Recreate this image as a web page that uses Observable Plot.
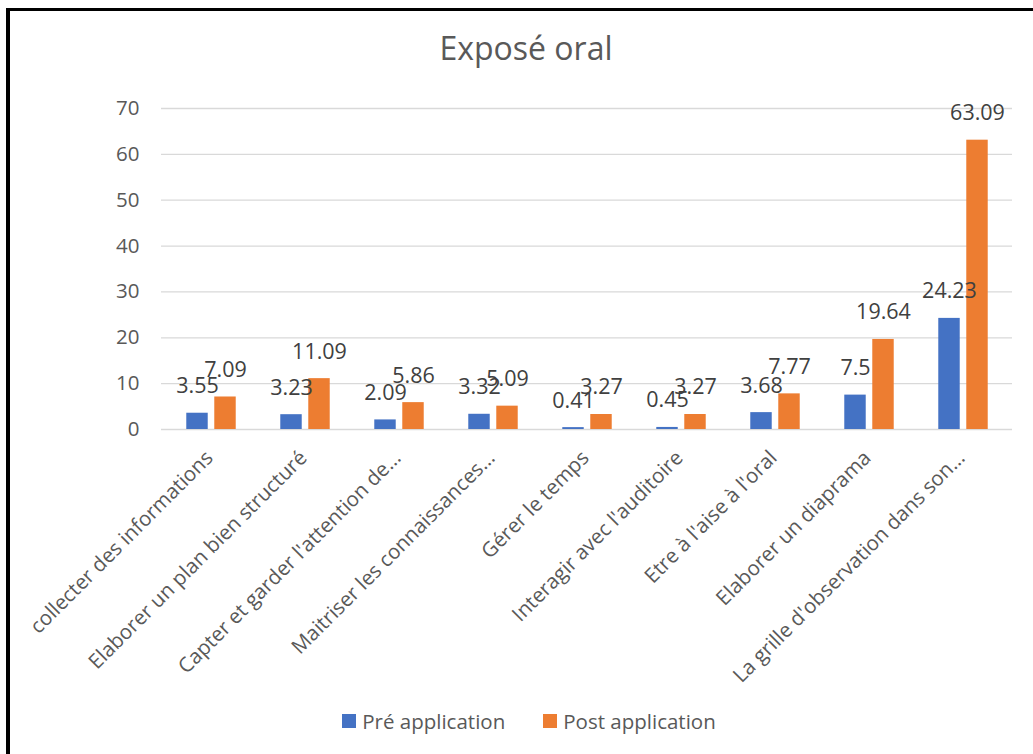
<!DOCTYPE html>
<html>
<head>
<meta charset="utf-8">
<script src="https://cdn.jsdelivr.net/npm/d3@7"></script>
<script src="https://cdn.jsdelivr.net/npm/@observablehq/plot@0.6"></script>
<style>
  html, body { margin: 0; padding: 0; background: #fff; }
  body { width: 1033px; height: 754px; position: relative; overflow: hidden; font-family: "Open Sans", sans-serif; }
  #frame { position: absolute; left: 6px; top: 8px; width: 1100px; height: 800px; border-left: 4px solid #000; border-top: 3px solid #000; }
  #title { position: absolute; left: 0; width: 1052px; top: 26px; text-align: center; font-size: 32px; color: #595959; }
  #chart { position: absolute; left: 0; top: 80px; }
  #legend { position: absolute; left: 0; width: 1058px; top: 707px; display: flex; justify-content: center; gap: 38px; font-size: 20.5px; color: #595959; }
  #legend .item { display: flex; align-items: center; gap: 6px; }
  #legend .sw { width: 14px; height: 14px; display: inline-block; }
</style>
</head>
<body>
<div id="frame"></div>
<div id="title">Exposé oral</div>
<div id="chart"></div>
<div id="legend"></div>
<script>
const categories = [
  "collecter des informations",
  "Elaborer un plan bien structuré",
  "Capter et garder l'attention de...",
  "Maitriser les connaissances...",
  "Gérer le temps",
  "Interagir avec l'auditoire",
  "Etre à l'aise à l'oral",
  "Elaborer un diaprama",
  "La grille d'observation dans son..."
];
const series = ["Pré application", "Post application"];
const preValues = [3.55, 3.23, 2.09, 3.32, 0.41, 0.45, 3.68, 7.5, 24.23];
const postValues = [7.09, 11.09, 5.86, 5.09, 3.27, 3.27, 7.77, 19.64, 63.09];
const colors = ["#4472C4", "#ED7D31"];
const yTicks = [0, 10, 20, 30, 40, 50, 60, 70];

const pre = categories.map((c, i) => ({category: c, series: series[0], value: preValues[i]}));
const post = categories.map((c, i) => ({category: c, series: series[1], value: postValues[i]}));

const width = 1033, height = 610;
const ml = 161, mr = 21, mt = 28, mb = 261;
const bw = (width - ml - mr) / categories.length;
const half = bw / 2;
// bar offsets from category center: pre [-25,-3], post [+3,+25]
const preInset = {insetLeft: half - 25, insetRight: half + 3};
const postInset = {insetLeft: half + 3, insetRight: half - 25};

const chart = Plot.plot({
  width, height,
  marginTop: mt, marginBottom: mb, marginLeft: ml, marginRight: mr,
  style: {fontFamily: "Open Sans, sans-serif", fontSize: "20px", color: "#595959", background: "transparent", overflow: "visible"},
  x: {domain: categories, padding: 0, label: null},
  y: {domain: [0, 70], label: null},
  color: {domain: series, range: colors},
  marks: [
    Plot.gridY(yTicks, {stroke: "#d9d9d9", strokeOpacity: 1, strokeWidth: 1.3}),
    Plot.axisY({ticks: yTicks, tickSize: 0, tickPadding: 22, fontSize: 20.5, label: null}),
    Plot.axisX({tickSize: 0, tickRotate: -45, tickPadding: 25, dx: -2, fontSize: 20.5, label: null}),
    Plot.barY(pre, {x: "category", y: "value", fill: "series", ...preInset}),
    Plot.barY(post, {x: "category", y: "value", fill: "series", ...postInset}),
    Plot.text(pre, {x: "category", y: "value", text: d => String(d.value), dx: -14, dy: -27, fontSize: 21.5, fill: "#404040"}),
    Plot.text(post, {x: "category", y: "value", text: d => String(d.value), dx: 14, dy: -27, fontSize: 21.5, fill: "#404040"})
  ]
});
document.getElementById("chart").appendChild(chart);

const legend = document.getElementById("legend");
series.forEach((s, i) => {
  const item = document.createElement("div");
  item.className = "item";
  const sw = document.createElement("span");
  sw.className = "sw";
  sw.style.background = colors[i];
  const t = document.createElement("span");
  t.textContent = s;
  item.appendChild(sw);
  item.appendChild(t);
  legend.appendChild(item);
});
</script>
</body>
</html>
